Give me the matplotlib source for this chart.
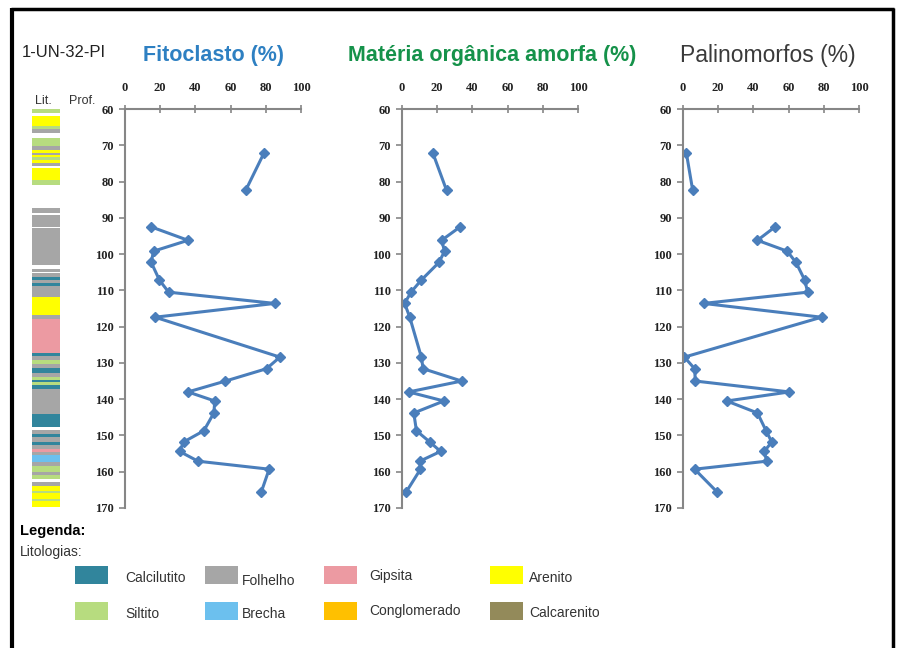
import matplotlib
matplotlib.use("Agg")
import matplotlib.pyplot as plt
import numpy as np
from matplotlib.patches import Rectangle

# sample depths (m) shared by the three palynofacies curves
depth = [72.1, 82.4, 92.5, 96.2, 99.2, 102.3, 107.2, 110.5, 113.6, 117.4, 128.4,
         131.6, 135.0, 138.0, 140.5, 143.8, 148.7, 151.8, 154.4, 157.1, 159.3, 165.5]
fitoclasto = [79, 68.6, 14.9, 35.8, 16.2, 14.9, 19.6, 24.8, 85.1, 17.1, 88,
              80.4, 57.1, 35.8, 51, 50.5, 44.8, 33.3, 31, 41.5, 81.9, 77.5]
mo_amorfa = [17.5, 25.3, 33, 22.5, 24.2, 21, 10.9, 5.1, 1.5, 4.4, 11,
             12, 33.9, 3.8, 23.8, 6.7, 8.2, 15.8, 21.9, 10.1, 10.5, 2.5]
palinomorfos = [1.9, 5.5, 52.3, 42.3, 59.2, 64.2, 69.2, 70.8, 11.7, 78.7, 0.8,
                6.6, 7, 60.4, 24.9, 42.3, 47.2, 50.4, 46.2, 47.5, 6.6, 19.2]
gap_after = 1  # no samples between the 2nd and 3rd depth

x_ticks = [0, 20, 40, 60, 80, 100]
y_ticks = [60, 70, 80, 90, 100, 110, 120, 130, 140, 150, 160, 170]

# lithology column: top, base (m) and rock type
lit_top = [60.0, 61.8, 64.8, 65.5, 68.0, 70.3, 71.2, 72.2, 72.6, 73.3, 74.0, 74.9,
           76.3, 79.5, 87.3, 89.2, 92.9, 104.2, 105.3, 106.2, 107.1, 108.1, 108.8,
           111.7, 116.8, 118.0, 127.4, 128.1, 129.2, 130.2, 131.5, 132.9, 133.8,
           134.6, 135.2, 136.2, 137.1, 144.0, 148.4, 149.5, 150.4, 151.8, 152.7,
           153.6, 154.6, 155.5, 157.3, 158.3, 160.1, 161.0, 162.9, 163.8, 165.2,
           165.9, 167.5, 168.1]
lit_base = [61.1, 64.8, 65.5, 66.6, 70.3, 71.2, 72.2, 72.6, 73.3, 74.0, 74.9, 75.7,
            79.5, 80.9, 88.7, 92.4, 103.0, 104.8, 106.2, 107.1, 108.1, 108.8, 111.7,
            116.8, 118.0, 127.4, 128.1, 129.2, 130.2, 131.5, 132.9, 133.8, 134.6,
            135.2, 136.2, 137.1, 144.0, 147.7, 149.5, 150.4, 151.8, 152.7, 153.6,
            154.6, 155.5, 157.3, 158.3, 160.1, 161.0, 161.9, 163.8, 165.2, 165.9,
            167.5, 168.1, 169.6]
lit_type = ["Siltito", "Arenito", "Siltito", "Folhelho", "Siltito", "Folhelho",
            "Arenito", "Folhelho", "Arenito", "Siltito", "Arenito", "Folhelho",
            "Arenito", "Siltito", "Folhelho", "Folhelho", "Folhelho", "Folhelho",
            "Folhelho", "Calcilutito", "Folhelho", "Calcilutito", "Folhelho",
            "Arenito", "Folhelho", "Gipsita", "Calcilutito", "Folhelho", "Siltito",
            "Folhelho", "Calcilutito", "Folhelho", "Siltito", "Calcilutito",
            "Siltito", "Calcilutito", "Folhelho", "Calcilutito", "Folhelho",
            "Calcilutito", "Folhelho", "Calcilutito", "Folhelho", "Gipsita",
            "Folhelho", "Brecha", "Folhelho", "Siltito", "Folhelho", "Siltito",
            "Folhelho", "Arenito", "Siltito", "Arenito", "Siltito", "Arenito"]

legend_row1 = ["Calcilutito", "Folhelho", "Gipsita", "Arenito"]
legend_row2 = ["Siltito", "Brecha", "Conglomerado", "Calcarenito"]

LIT_COLORS = {
    "Calcilutito": "#31859c",
    "Folhelho": "#a6a6a6",
    "Gipsita": "#ec9aa2",
    "Arenito": "#ffff00",
    "Siltito": "#b7dc7f",
    "Brecha": "#6cc0ee",
    "Conglomerado": "#ffc000",
    "Calcarenito": "#938a5a",
}
LINE = "#4a7ebb"
AXIS = "#868686"
SANS = "Liberation Sans"
SERIF = "Liberation Serif"

W, H = 906, 648


def px_rect(left, top, width, height):
    return [left / W, 1 - (top + height) / H, width / W, height / H]


fig = plt.figure(figsize=(W / 100, H / 100), dpi=100)

# pixel-space overlay for the frame, headings and legend
bg = fig.add_axes([0, 0, 1, 1])
bg.set_xlim(0, W)
bg.set_ylim(H, 0)
bg.axis("off")
bg.plot([12, 12], [H, 8], color="black", lw=3, solid_capstyle="butt")
bg.plot([11, 894], [8.5, 8.5], color="black", lw=2.5, solid_capstyle="butt")
bg.plot([893, 893], [8, H], color="black", lw=2.5, solid_capstyle="butt")

bg.text(22, 57, "1-UN-32-PI", family=SANS, fontsize=12, va="baseline", color="#222222")
bg.text(143, 61, "Fitoclasto (%)", family=SANS, fontsize=15.5, fontweight="bold",
        color="#2e80c2", va="baseline")
bg.text(348, 61, "Matéria orgânica amorfa (%)", family=SANS, fontsize=15.5,
        fontweight="bold", color="#15924a", va="baseline")
bg.text(680, 62, "Palinomorfos (%)", family=SANS, fontsize=16.5, color="#3a3a3a",
        va="baseline")
bg.text(35, 104, "Lit.", family=SANS, fontsize=9, va="baseline", color="#333333")
bg.text(69, 104, "Prof.", family=SANS, fontsize=9, va="baseline", color="#333333")

# legend
bg.text(20, 535, "Legenda:", family=SANS, fontsize=10.5, fontweight="bold", va="baseline")
bg.text(20, 556, "Litologias:", family=SANS, fontsize=10, va="baseline", color="#333333")
col_x = [75, 205, 324, 490]
text_x = [125, 242, 369, 529]
row_y = [566, 602]
row_text_dy = [[12.5, 15, 10, 12.5], [12.5, 12.5, 9, 11]]
for r, names in enumerate([legend_row1, legend_row2]):
    for c, name in enumerate(names):
        bg.add_patch(Rectangle((col_x[c], row_y[r]), 33, 18, color=LIT_COLORS[name], lw=0))
        bg.text(text_x[c], row_y[r] + row_text_dy[r][c], name, family=SANS, fontsize=10,
                va="center", color="#333333")

# lithology column
lit = fig.add_axes(px_rect(32, 109, 28, 399))
lit.set_ylim(170, 60)
lit.set_xlim(0, 1)
lit.axis("off")
thick = np.array(lit_base) - np.array(lit_top)
lit.bar(0.5, thick, bottom=lit_top, width=1.0,
        color=[LIT_COLORS[t] for t in lit_type], linewidth=0)

# the three percentage curves
panels = [(125, fitoclasto), (402, mo_amorfa), (683, palinomorfos)]
for left, values in panels:
    ax = fig.add_axes(px_rect(left, 109, 176, 399))
    ax.patch.set_alpha(0)
    for seg in (slice(0, gap_after + 1), slice(gap_after + 1, None)):
        ax.plot(values[seg], depth[seg], color=LINE, lw=2.2, marker="D",
                markersize=5, markeredgecolor=LINE)
    ax.set_xlim(0, 100)
    ax.set_ylim(170, 60)
    ax.xaxis.tick_top()
    ax.set_xticks(x_ticks)
    ax.set_yticks(y_ticks)
    for side in ("right", "bottom"):
        ax.spines[side].set_visible(False)
    for side in ("left", "top"):
        ax.spines[side].set_color(AXIS)
        ax.spines[side].set_linewidth(1.5)
    ax.tick_params(axis="x", direction="inout", length=6, width=1.2, color=AXIS, pad=8)
    ax.tick_params(axis="y", direction="out", length=4, width=1.2, color=AXIS, pad=4)
    for lab in ax.get_xticklabels() + ax.get_yticklabels():
        lab.set_family(SERIF)
        lab.set_fontweight("bold")
        lab.set_fontsize(9)
        lab.set_color("#222222")

fig.savefig("out.png", dpi=100)
